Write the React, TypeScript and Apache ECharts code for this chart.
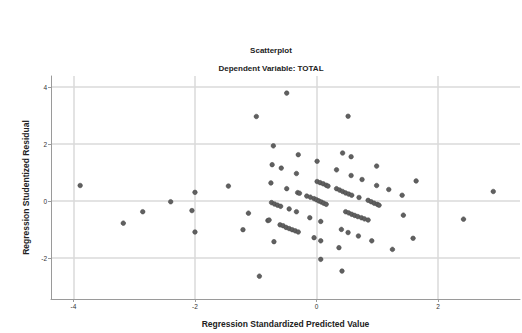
import React, { useEffect, useRef } from "react";
import * as echarts from "echarts";

const chartTitle = "Scatterplot";
const chartSubtitle = "Dependent Variable: TOTAL";
const xAxisTitle = "Regression Standardized Predicted Value";
const yAxisTitle = "Regression Studentized Residual";

const xTicks = [-4, -2, 0, 2];
const yTicks = [-2, 0, 2, 4];

// scattered points [predicted, residual]
const scatteredPoints: [number, number][] = [
  [-3.89, 0.55], [-3.18, -0.77], [-2.86, -0.37], [-2.4, -0.02], [-2.0, 0.31],
  [-2.05, -0.33], [-2.0, -1.08], [-1.45, 0.53], [-1.12, -0.42], [-1.21, -1.0],
  [-0.99, 2.97], [-0.94, -2.63], [-0.71, 1.94], [-0.73, 1.28], [-0.58, 1.16],
  [-0.75, 0.64], [-0.49, 3.79], [-0.3, 1.63], [0.01, 1.4], [-0.33, 0.97],
  [0.43, 1.69], [0.57, 1.56], [0.33, 1.1], [0.57, 0.9], [0.99, 1.23],
  [0.75, 0.76], [0.99, 0.55], [1.19, 0.41], [1.64, 0.71], [1.41, 0.21],
  [2.91, 0.34], [2.42, -0.63], [1.43, -0.49], [1.59, -1.3], [1.25, -1.69],
  [0.91, -1.39], [0.69, -1.22], [0.52, -1.1], [0.41, -0.99], [0.37, -1.63],
  [0.42, -2.45], [0.07, -2.04], [0.07, -1.39], [-0.04, -1.28], [0.07, -0.71],
  [-0.11, -0.58], [-0.33, -0.37], [-0.45, -0.27], [-0.7, -1.42], [-0.8, -0.68],
  [-0.78, -0.66], [0.52, 2.98], [-0.49, 0.44], [0.7, 0.13],
];

// diagonal streaks of overlapping points
const streakA: [number, number][] = [
  [-0.6, -0.83], [-0.55, -0.86], [-0.5, -0.92], [-0.45, -0.96], [-0.4, -1.0], [-0.35, -1.04], [-0.3, -1.08],
];
const streakB: [number, number][] = [
  [-0.74, -0.05], [-0.69, -0.1], [-0.64, -0.14], [-0.59, -0.18],
];
const streakC: [number, number][] = [
  [-0.31, 0.3], [-0.28, 0.28], [-0.16, 0.18], [-0.1, 0.14], [-0.04, 0.09],
  [0.0, 0.05], [0.04, 0.01], [0.08, -0.03], [0.12, -0.07], [0.16, -0.11],
];
const streakD: [number, number][] = [
  [0.01, 0.69], [0.06, 0.65], [0.11, 0.61], [0.16, 0.56], [0.19, 0.53],
];
const streakE: [number, number][] = [
  [0.33, 0.44], [0.38, 0.39], [0.43, 0.34], [0.48, 0.29], [0.53, 0.25], [0.58, 0.21],
];
const streakF: [number, number][] = [
  [0.85, 0.03], [0.9, -0.02], [0.95, -0.07], [1.0, -0.11], [1.03, -0.14],
];
const streakG: [number, number][] = [
  [0.48, -0.37], [0.53, -0.41], [0.58, -0.46], [0.63, -0.5], [0.68, -0.54],
  [0.74, -0.58], [0.79, -0.62], [0.85, -0.66],
];

export default function App() {
  const ref = useRef<HTMLDivElement>(null);

  useEffect(() => {
    if (!ref.current) return;
    const chart = echarts.init(ref.current, undefined, { renderer: "svg" });
    const allPoints = [
      ...scatteredPoints,
      ...streakA, ...streakB, ...streakC, ...streakD, ...streakE, ...streakF, ...streakG,
    ];
    const font = "'Liberation Sans', Arial, sans-serif";
    chart.setOption({
      animation: false,
      backgroundColor: "#ffffff",
      grid: { left: 51, right: 2, top: 76, bottom: 31.3, containLabel: false },
      graphic: [
        {
          type: "text", x: 271, y: 50,
          style: { text: chartTitle, font: `bold 8px ${font}`, fill: "#222", textAlign: "center", textVerticalAlign: "middle" },
        },
        {
          type: "text", x: 271, y: 68,
          style: { text: chartSubtitle, font: `bold 8px ${font}`, fill: "#222", textAlign: "center", textVerticalAlign: "middle" },
        },
      ],
      xAxis: {
        type: "value",
        min: -4.37,
        max: 3.35,
        name: xAxisTitle,
        nameLocation: "middle",
        nameGap: 20,
        nameTextStyle: { fontFamily: font, fontWeight: "bold", fontSize: 8.5, color: "#222" },
        axisLine: { show: true, onZero: false, lineStyle: { color: "#9a9a9a", width: 1 } },
        axisTick: { show: true, length: 3, customValues: xTicks, lineStyle: { color: "#9a9a9a" } },
        axisLabel: { customValues: xTicks, fontFamily: font, fontSize: 6.5, color: "#333", margin: 4 },
        splitLine: { show: true, lineStyle: { color: "#dadada", width: 1.5 } },
      },
      yAxis: {
        type: "value",
        min: -3.43,
        max: 4.39,
        name: yAxisTitle,
        nameLocation: "middle",
        nameGap: 18,
        nameRotate: 90,
        nameTextStyle: { fontFamily: font, fontWeight: "bold", fontSize: 8.5, color: "#222" },
        axisLine: { show: true, onZero: false, lineStyle: { color: "#9a9a9a", width: 1 } },
        axisTick: { show: true, length: 3, customValues: yTicks, lineStyle: { color: "#9a9a9a" } },
        axisLabel: { customValues: yTicks, fontFamily: font, fontSize: 6.5, color: "#333", margin: 4 },
        splitLine: { show: true, lineStyle: { color: "#dadada", width: 1.5 } },
      },
      series: [
        {
          type: "scatter",
          data: allPoints,
          symbol: "circle",
          symbolSize: 4.6,
          itemStyle: { color: "#606060", borderColor: "#444444", borderWidth: 0.5, opacity: 1 },
          silent: true,
        },
      ],
    });
    return () => chart.dispose();
  }, []);

  return (
    <div
      ref={ref}
      style={{ position: "fixed", left: 0, top: 0, width: 522, height: 333 }}
    />
  );
}
